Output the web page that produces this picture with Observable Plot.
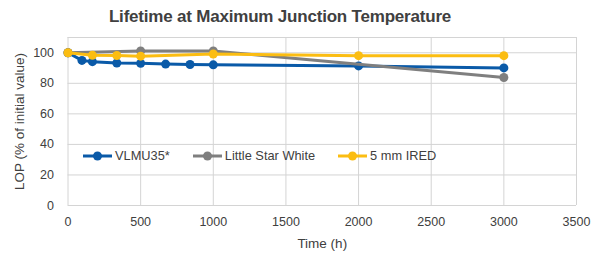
<!DOCTYPE html>
<html>
<head>
<meta charset="utf-8">
<script src="https://cdn.jsdelivr.net/npm/d3@7"></script>
<script src="https://cdn.jsdelivr.net/npm/@observablehq/plot@0.6"></script>
<style>
  html, body { margin: 0; padding: 0; background: #fff; }
  #wrap { position: relative; width: 600px; height: 254px; font-family: "Liberation Sans", Arial, sans-serif; color: #404040; }
  #title { height: 30px; line-height: 34px; text-align: center; font-weight: bold; font-size: 17px; letter-spacing: -0.2px; padding-right: 40px; box-sizing: border-box; }
  #legend { position: absolute; left: 83px; top: 148px; display: flex; gap: 0; font-size: 12.8px; align-items: center; }
  .item { display: flex; align-items: center; margin-right: 23px; }
  .item svg { margin-right: 3px; }
</style>
</head>
<body>
<div id="wrap">
  <div id="title">Lifetime at Maximum Junction Temperature</div>
  <div id="chart"></div>
  <div id="legend"></div>
</div>
<script>
const seriesNames = ["VLMU35*", "Little Star White", "5 mm IRED"];
const seriesColors = ["#0a5aa8", "#7f7f7f", "#fbbd12"];

const vlmuTime = [0, 96, 168, 336, 500, 672, 840, 1000, 2000, 3000];
const vlmuLop  = [100, 95, 94.2, 93.3, 93.1, 92.6, 92.3, 92.1, 91.4, 90.1];

const starTime = [0, 500, 1000, 3000];
const starLop  = [100, 101.2, 101.2, 83.8];

const iredTime = [0, 168, 336, 500, 1000, 2000, 3000];
const iredLop  = [100, 98.4, 98.2, 97.8, 99.2, 98.1, 98.1];

const xTicks = [0, 500, 1000, 1500, 2000, 2500, 3000, 3500];
const yTicks = [0, 20, 40, 60, 80, 100];
const yGrid = [0, 20, 40, 60, 80, 100, 110];

const rows = [];
vlmuTime.forEach((t, i) => rows.push({series: seriesNames[0], t, v: vlmuLop[i]}));
starTime.forEach((t, i) => rows.push({series: seriesNames[1], t, v: starLop[i]}));
iredTime.forEach((t, i) => rows.push({series: seriesNames[2], t, v: iredLop[i]}));

const color = {domain: seriesNames, range: seriesColors};

const marks = [
  Plot.ruleY(yGrid, {stroke: "#d4d4d4", strokeWidth: 1}),
  Plot.ruleX(xTicks, {stroke: "#d4d4d4", strokeWidth: 1}),
];
for (const s of seriesNames) {
  const d = rows.filter(r => r.series === s);
  marks.push(Plot.line(d, {x: "t", y: "v", stroke: "series", strokeWidth: 3}));
  marks.push(Plot.dot(d, {x: "t", y: "v", fill: "series", r: 4.5}));
}

const plot = Plot.plot({
  width: 600,
  height: 224,
  marginTop: 7,
  marginBottom: 49,
  marginLeft: 67.5,
  marginRight: 24,
  style: {fontFamily: "'Liberation Sans', Arial, sans-serif", fontSize: "12.5px", color: "#404040", background: "white"},
  x: {domain: [0, 3500], ticks: xTicks, tickFormat: d3.format("d"), tickSize: 0, tickPadding: 12, label: "Time (h)", labelAnchor: "center", labelArrow: "none", labelOffset: 42},
  y: {domain: [0, 110], ticks: yTicks, tickFormat: d3.format("d"), tickSize: 0, tickPadding: 14, label: "LOP (% of initial value)", labelAnchor: "center", labelArrow: "none", labelOffset: 54},
  color,
  marks
});
plot.querySelectorAll("g[aria-label='y-axis label'] text, g[aria-label='x-axis label'] text").forEach(t => t.style.fontSize = "13.5px");
document.getElementById("chart").appendChild(plot);

const legend = document.getElementById("legend");
seriesNames.forEach((s, i) => {
  const item = document.createElement("div");
  item.className = "item";
  item.innerHTML = `<svg width="29" height="12"><line x1="0" x2="29" y1="6" y2="6" stroke="${seriesColors[i]}" stroke-width="3"/><circle cx="14.5" cy="6" r="4.5" fill="${seriesColors[i]}"/></svg><span>${s}</span>`;
  legend.appendChild(item);
});
</script>
</body>
</html>
